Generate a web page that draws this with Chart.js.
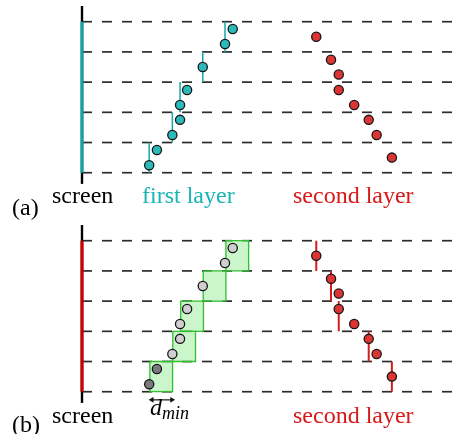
<!DOCTYPE html>
<html>
<head>
<meta charset="utf-8">
<script src="https://cdn.jsdelivr.net/npm/chart.js@4"></script>
<style>
  body { margin: 0; background: #fff; }
  #wrap { position: relative; width: 472px; height: 434px; overflow: hidden; background: #fff; }
  canvas { position: absolute; left: 0; }
  .lbl { position: absolute; font: 24px/24px "Liberation Serif", "Times New Roman", serif; white-space: nowrap; color: #000; }
  .teal { color: #19b4b4; }
  .red { color: #d81818; }
  .dmin i { font-style: italic; }
  .dmin sub { font-size: 18px; font-style: italic; vertical-align: -4px; line-height: 0; }
</style>
</head>
<body>
<div id="wrap">
  <canvas id="panelA" width="472" height="215" style="top:0"></canvas>
  <canvas id="panelB" width="472" height="215" style="top:219px"></canvas>

  <div class="lbl" style="left:12px;top:195px">(a)</div>
  <div class="lbl" style="left:52px;top:183px">screen</div>
  <div class="lbl teal" style="left:142px;top:183px">first layer</div>
  <div class="lbl red" style="left:293px;top:183px">second layer</div>

  <div class="lbl" style="left:12px;top:412px">(b)</div>
  <div class="lbl" style="left:52px;top:403px">screen</div>
  <div class="lbl dmin" style="left:150px;top:395px"><i>d</i><sub>min</sub></div>
  <div class="lbl red" style="left:293px;top:403px">second layer</div>
</div>

<script>
// rows of the grid (one unit = one row), x in units of d_min from the screen
const GRID_ROWS = [0, 1, 2, 3, 4, 5];
const GRID_END = 16.43;

const FIRST_X = [2.96, 3.3, 3.98, 4.32, 4.32, 4.63, 5.32, 6.3, 6.64];
const FIRST_Y = [0.25, 0.75, 1.25, 1.75, 2.24, 2.74, 3.5, 4.26, 4.76];

const SECOND_X = [10.32, 10.97, 11.31, 11.31, 11.99, 12.63, 12.98, 13.65];
const SECOND_Y = [4.5, 3.74, 3.25, 2.74, 2.24, 1.75, 1.25, 0.5];

// one vertical span per row (row i -> i + 1)
const FIRST_SPAN_X = [2.96, 3.98, 4.32, 5.32, 6.3];
const SECOND_SPAN_X = [13.65, 12.63, 11.31, 10.97, 10.32];

// d_min boxes, one per row
const BOX_X = [2.99, 4.0, 4.35, 5.34, 6.34];
const D_MIN = 1;
const DARK_POINTS = 2;

const SCREEN_EXTENT = [-0.37, 5.52];

const TEAL = '#2bbaba';
const TEAL_LINE = '#14a8a8';
const RED = '#dd3434';
const RED_LINE = '#d41c1c';

const toPoints = (xs, ys) => xs.map((x, i) => ({ x, y: ys[i] }));

const lineSet = (data, color, width, extra = {}) => ({
  data,
  showLine: true,
  borderColor: color,
  borderWidth: width,
  pointRadius: 0,
  fill: false,
  ...extra,
});

const pointSet = (data, fill) => ({
  data,
  showLine: false,
  pointRadius: 4.6,
  pointBorderWidth: 1.3,
  pointBorderColor: '#151515',
  pointBackgroundColor: fill,
});

function gridSets() {
  return GRID_ROWS.map((r) =>
    lineSet([{ x: 0, y: r }, { x: GRID_END, y: r }], '#2c2c2c', 1.7, { borderDash: [10, 10] }),
  );
}

function screenSets(color) {
  const top = GRID_ROWS[GRID_ROWS.length - 1];
  return [
    lineSet([{ x: 0, y: GRID_ROWS[0] }, { x: 0, y: top }], color, 3.2),
    lineSet([{ x: 0, y: SCREEN_EXTENT[0] }, { x: 0, y: SCREEN_EXTENT[1] }], '#000', 2.4),
  ];
}

function spanSets(xs, color, width) {
  return xs.map((x, i) => lineSet([{ x, y: GRID_ROWS[i] }, { x, y: GRID_ROWS[i + 1] }], color, width));
}

function boxSets() {
  return BOX_X.map((x, i) => {
    const y0 = GRID_ROWS[i];
    const y1 = GRID_ROWS[i + 1];
    return lineSet(
      [
        { x, y: y0 },
        { x: x + D_MIN, y: y0 },
        { x: x + D_MIN, y: y1 },
        { x, y: y1 },
        { x, y: y0 },
      ],
      '#2fbf2f',
      1.3,
      { fill: 'shape', backgroundColor: 'rgba(160, 238, 160, 0.55)', tension: 0 },
    );
  });
}

function arrowSet() {
  const y = -0.27;
  return lineSet([{ x: 3.08, y }, { x: 3.96, y }], '#111', 1.2, {
    pointRadius: 3.2,
    pointStyle: 'triangle',
    pointRotation: [-90, 90],
    pointBackgroundColor: '#111',
    pointBorderColor: '#111',
    pointBorderWidth: 0,
  });
}

function makePanel(id, datasets) {
  return new Chart(document.getElementById(id), {
    type: 'scatter',
    data: { datasets },
    options: {
      responsive: false,
      animation: false,
      devicePixelRatio: 1,
      layout: { padding: 0, autoPadding: false },
      plugins: { legend: { display: false }, tooltip: { enabled: false } },
      scales: {
        x: { type: 'linear', display: false, min: -3.612, max: 17.18 },
        y: { type: 'linear', display: false, min: -1.4, max: 5.719 },
      },
    },
  });
}

document.addEventListener('DOMContentLoaded', function () {
  // the first dataset is drawn on top
  makePanel('panelA', [
    pointSet(toPoints(FIRST_X, FIRST_Y), TEAL),
    pointSet(toPoints(SECOND_X, SECOND_Y), RED),
    ...spanSets(FIRST_SPAN_X, TEAL_LINE, 1.5),
    ...screenSets('#13a3a3'),
    ...gridSets(),
  ]);

  const greys = FIRST_X.map((_, i) => (i < DARK_POINTS ? '#7a7a7a' : '#cfcfcf'));

  makePanel('panelB', [
    pointSet(toPoints(FIRST_X, FIRST_Y), greys),
    pointSet(toPoints(SECOND_X, SECOND_Y), RED),
    ...spanSets(SECOND_SPAN_X, RED_LINE, 2),
    arrowSet(),
    ...boxSets(),
    ...screenSets('#cc0000'),
    ...gridSets(),
  ]);
});
</script>
</body>
</html>
